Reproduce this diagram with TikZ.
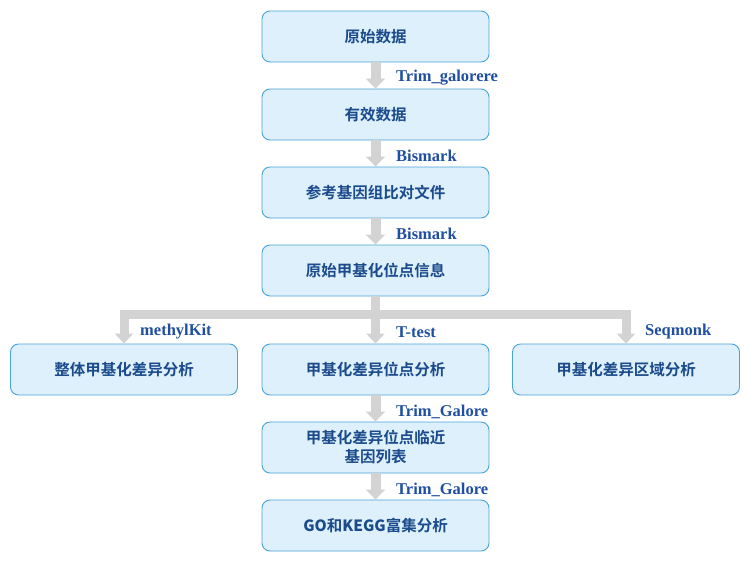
\documentclass[tikz,border=0pt]{standalone}
\usepackage{fontspec}
\setmainfont{Liberation Serif}
\newfontfamily\cjk{Noto Sans CJK SC Bold}
\usetikzlibrary{arrows.meta}
\definecolor{boxfill}{HTML}{DDF0FB}
\definecolor{boxborder}{HTML}{4AA3D8}
\definecolor{txt}{HTML}{1B4B8C}
\definecolor{lbl}{HTML}{1F4FA0}
\definecolor{arrgray}{HTML}{D3D3D3}
\tikzset{
  box/.style={draw=boxborder, fill=boxfill, rounded corners=8pt, minimum width=227pt, minimum height=51pt, line width=0.9pt, font=\cjk\fontsize{15.5}{19}\selectfont, text=txt, align=center, inner sep=0pt},
  arr/.style={draw=arrgray, line width=10pt, -{Triangle[width=19pt,length=10pt]}},
  bar/.style={draw=arrgray, line width=9pt, -{Triangle[width=18pt,length=10pt]}},
  lab/.style={anchor=west, font=\bfseries\fontsize{16.5}{19}\selectfont, text=lbl, inner sep=0pt}
}
\begin{document}
\begin{tikzpicture}[x=1pt,y=-1pt]
\useasboundingbox (0,0) rectangle (751,560);
\node[box] (b1) at (375.5,36.5) {原始数据};
\node[box] (b2) at (375.5,114.5) {有效数据};
\node[box] (b3) at (375.5,192.5) {参考基因组比对文件};
\node[box] (b4) at (375.5,270.5) {原始甲基化位点信息};
\node[box] (b5l) at (124,369.5) {整体甲基化差异分析};
\node[box] (b5m) at (375.5,369.5) {甲基化差异位点分析};
\node[box] (b5r) at (626,369.5) {甲基化差异区域分析};
\node[box] (b6) at (375.5,447.5) {甲基化差异位点临近\\基因列表};
\node[box] (b7) at (375.5,525.5) {{\bfseries GO}和{\bfseries KEGG}富集分析};
\coordinate (j) at (375.5,314);
\draw[arr] (b1.south) -- (b2.north);
\draw[arr] (b2.south) -- (b3.north);
\draw[arr] (b3.south) -- (b4.north);
\draw[bar] (b4.south) -- (j) -| (b5l.north);
\draw[bar] (j) -| (b5r.north);
\draw[bar] (j) -- (b5m.north);
\draw[arr] (b5m.south) -- (b6.north);
\draw[arr] (b6.south) -- (b7.north);
\node[lab] (l1) at (396,78) {Trim\_galorere};
\node[lab] (l2) at (396,156) {Bismark};
\node[lab] (l3) at (396,234) {Bismark};
\node[lab] (l4) at (140,332) {methylKit};
\node[lab] (l5) at (396,332) {T-test};
\node[lab] (l6) at (645,332) {Seqmonk};
\node[lab] (l7) at (396,412) {Trim\_Galore};
\node[lab] (l8) at (396,490) {Trim\_Galore};
\end{tikzpicture}
\end{document}
